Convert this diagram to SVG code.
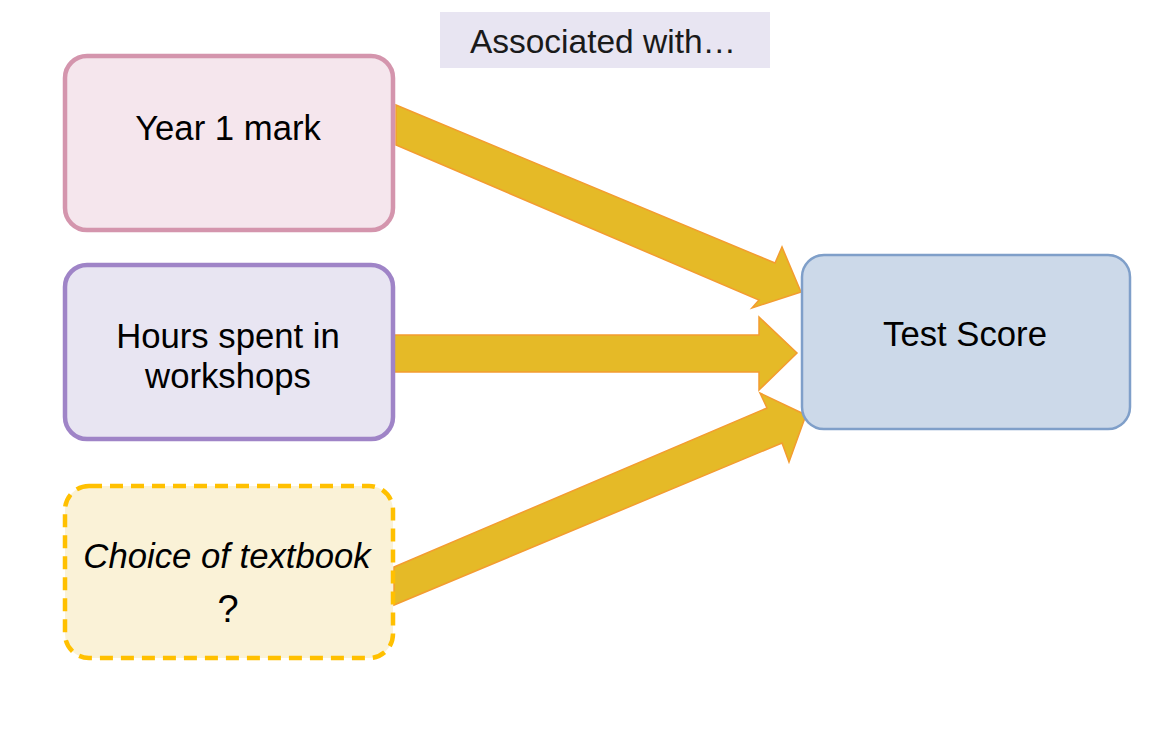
<svg xmlns="http://www.w3.org/2000/svg" width="1157" height="733" viewBox="0 0 1157 733">
<style>
.t{font-family:"Liberation Sans",Arial,Helvetica,sans-serif;font-size:34.7px;fill:#000;text-anchor:middle}
.arrow{fill:#e5ba27;stroke:#f39c30;stroke-width:1.5;stroke-linejoin:miter}
</style>
<rect width="1157" height="733" fill="#fff"/>
<g id="label">
<rect x="440" y="12" width="330" height="56" fill="#e8e5f2"/>
<text x="603" y="53" class="t" style="font-size:33.5px;fill:#1a1a1a">Associated with…</text>
</g>
<g id="connectors">
<polygon class="arrow" points="396,105 775,263 782,247 801,292 752,308 759,300 396,145"/>
<polygon class="arrow" points="394,335 759,335 759,317 797,353 759,390 759,372 394,372"/>
<polygon class="arrow" points="394,567 767,408 760,393 806,415 789,462 782,443 394,605"/>
</g>
<g id="year1">
<rect x="65" y="56" width="328" height="174" rx="22" fill="#f5e6ed" stroke="#d495ad" stroke-width="4.5"/>
<text x="228" y="140" class="t">Year 1 mark</text>
</g>
<g id="hours">
<rect x="65" y="265" width="328" height="174" rx="22" fill="#e8e5f2" stroke="#9f84c7" stroke-width="4.5"/>
<text x="228" y="348" class="t">Hours spent in</text>
<text x="228" y="388" class="t">workshops</text>
</g>
<g id="choice">
<rect x="65" y="486" width="328" height="172" rx="24" fill="#faf2d7" stroke="#ffc000" stroke-width="4.5" stroke-dasharray="13,8"/>
<text x="227" y="568" class="t" style="font-style:italic">Choice of textbook</text>
<text x="228" y="622" class="t" style="font-size:38px">?</text>
</g>
<g id="testscore">
<rect x="802" y="255" width="328" height="174" rx="22" fill="#ccd9e9" stroke="#7f9fc9" stroke-width="2.5"/>
<text x="965" y="346" class="t">Test Score</text>
</g>
</svg>
